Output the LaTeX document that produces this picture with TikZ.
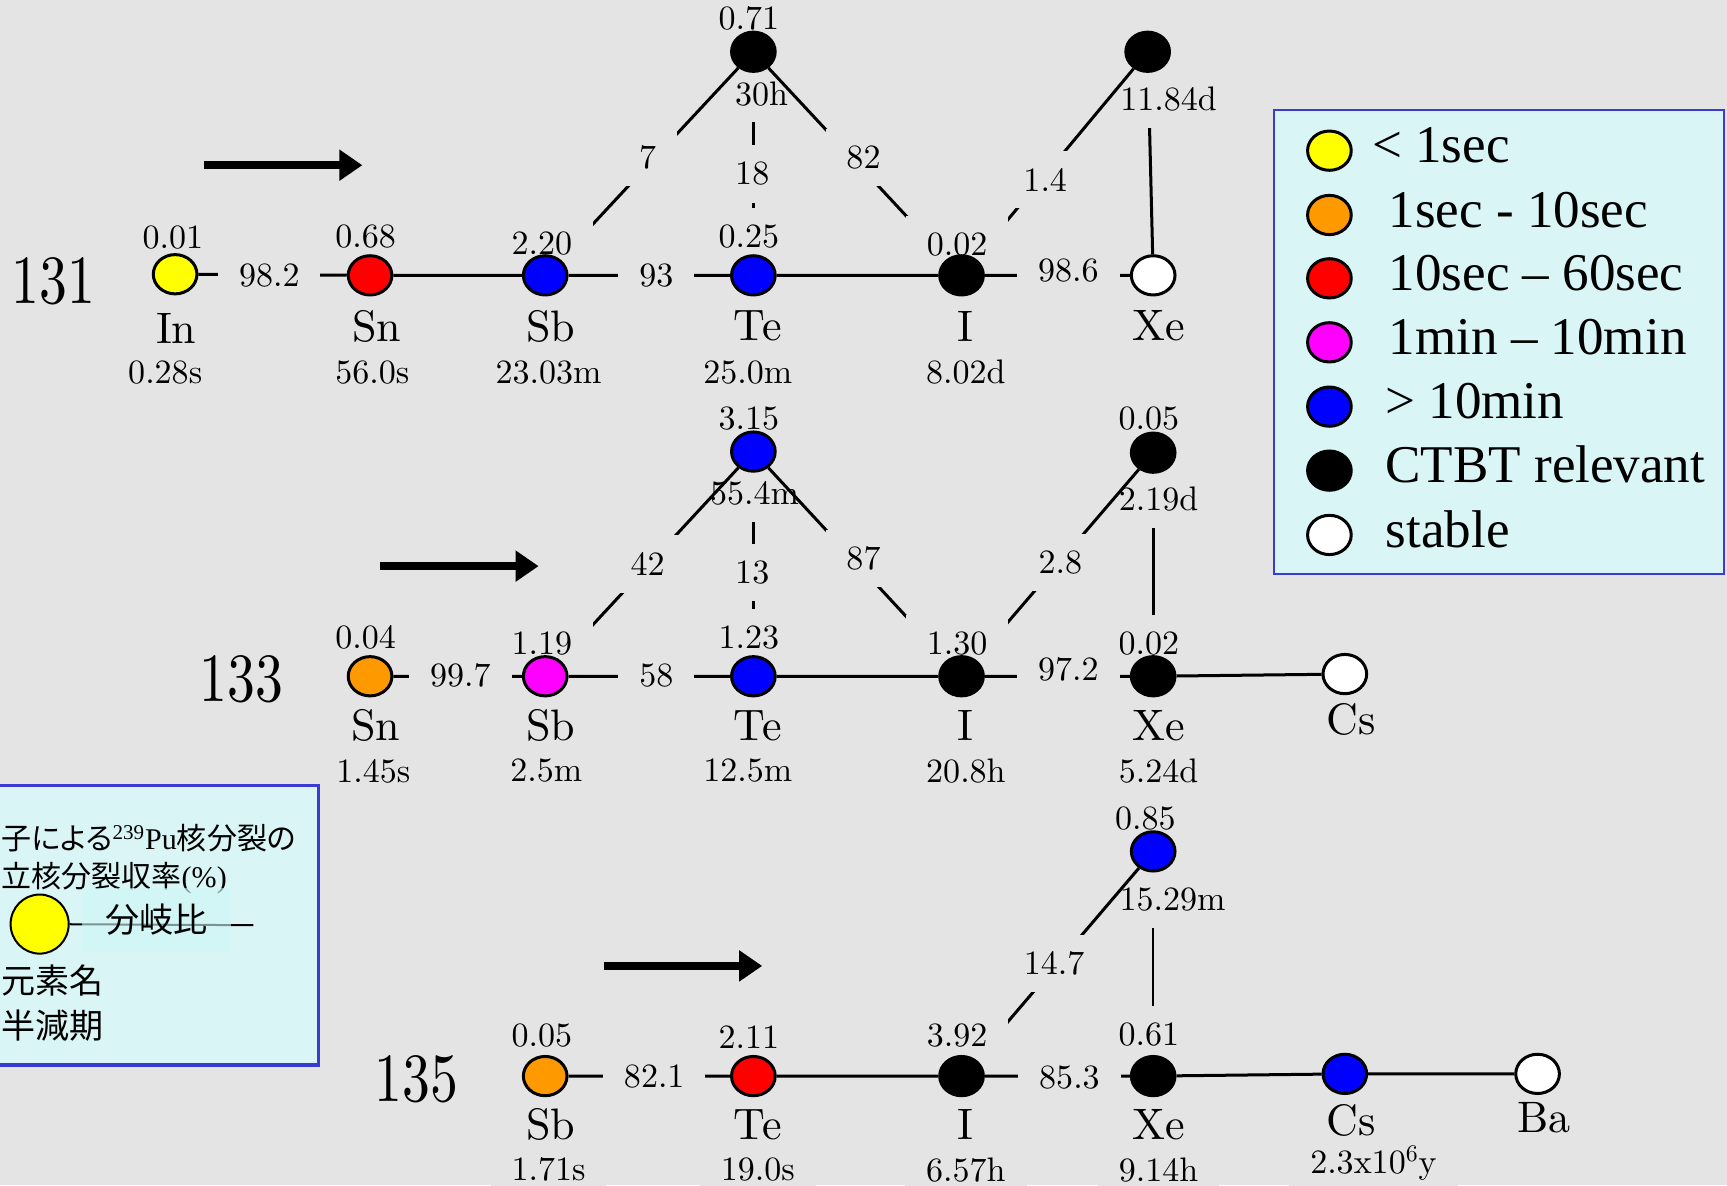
\documentclass[tikz,border=0pt]{standalone}
\usepackage{fontspec}
\usepackage{graphicx}
\newfontfamily\cmfont{lmroman10-regular.otf}
\newfontfamily\legserif{Liberation Serif}
\newfontfamily\jpfont[RawFeature=+palt]{Noto Sans CJK JP}
\usetikzlibrary{arrows.meta,shapes.geometric}

\definecolor{bgc}{RGB}{228,228,228}
\definecolor{nucyellow}{RGB}{255,255,0}
\definecolor{nucorange}{RGB}{255,153,0}
\definecolor{nucred}{RGB}{255,0,0}
\definecolor{nucmagenta}{RGB}{255,0,255}
\definecolor{nucblue}{RGB}{0,0,255}
\definecolor{legfill}{RGB}{218,245,245}
\definecolor{legline}{RGB}{58,58,212}
\definecolor{keyfill}{RGB}{205,246,246}

\pgfdeclarelayer{back}
\pgfdeclarelayer{vlines}
\pgfdeclarelayer{hlabels}
\pgfdeclarelayer{links}
\pgfdeclarelayer{labels}
\pgfsetlayers{back,vlines,hlabels,links,labels,main}

\begin{document}
\begin{tikzpicture}[x=0.55pt,y=-0.55pt,
  nuc/.style={ellipse, draw=black, line width=1.5pt, fill=#1,
    minimum width=21.8pt, minimum height=19.6pt, inner sep=0pt},
  numlbl/.style={font=\cmfont\fontsize{17}{20}\selectfont, fill=bgc,
    inner xsep=10.45pt, inner ysep=0pt, minimum height=28.6pt},
  elemlbl/.style={font=\cmfont\fontsize{22}{26}\selectfont, inner sep=0pt},
  masslbl/.style={font=\cmfont\fontsize{27.8}{32}\selectfont, inner sep=0pt},
  decayline/.style={line width=1.5pt},
  thinline/.style={line width=1.1pt},
  flowarrow/.style={line width=3.9pt, -{Triangle[width=14.9pt,length=11.5pt]}},
  legtxt/.style={font=\legserif\fontsize{26.5}{30}\selectfont, inner sep=0pt, anchor=base west},
  jpsmall/.style={font=\fontsize{15}{18}\selectfont, inner sep=0pt, anchor=base west},
  jplarge/.style={font=\jpfont\fontsize{17}{20}\selectfont, inner sep=0pt, anchor=base west}]

\begin{pgfonlayer}{back}
  \fill[bgc] (0,0) rectangle (1568,1076);
\end{pgfonlayer}
\useasboundingbox (0,0) rectangle (1568,1076);

% ---------------- mass 131 ----------------
\node[masslbl] (m131) at (48.5,255) {\scalebox{1}[1.24]{131}};
\node[nuc=nucyellow] (in131) at (159,249) {};
\node[nuc=nucred] (sn131) at (336,250) {};
\node[nuc=nucblue] (sb131) at (495,250) {};
\node[nuc=nucblue] (te131) at (684,250) {};
\node[nuc=black] (i131) at (873,250) {};
\node[nuc=white] (xe131) at (1047,250) {};
\node[nuc=black] (te131m) at (684,47) {};
\node[nuc=black] (xe131m) at (1042,47) {};

\node[elemlbl] (nin131) at (160,298) {In};
\node[elemlbl] (nsn131) at (342,296) {Sn};
\node[elemlbl] (nsb131) at (500,296) {Sb};
\node[elemlbl] (nte131) at (688,296) {Te};
\node[elemlbl] (ni131) at (877,296) {I};
\node[elemlbl] (nxe131) at (1052,296) {Xe};

% ---------------- mass 133 ----------------
\node[masslbl] (m133) at (219,617) {\scalebox{1}[1.24]{133}};
\node[nuc=nucorange] (sn133) at (336,614) {};
\node[nuc=nucmagenta] (sb133) at (495,614) {};
\node[nuc=nucblue] (te133) at (684,614) {};
\node[nuc=black] (i133) at (873,614) {};
\node[nuc=black] (xe133) at (1047,614) {};
\node[nuc=white] (cs133) at (1221,612) {};
\node[nuc=nucblue] (te133m) at (684,410) {};
\node[nuc=black] (xe133m) at (1047,411) {};

\node[elemlbl] (nsn133) at (341,659) {Sn};
\node[elemlbl] (nsb133) at (500,659) {Sb};
\node[elemlbl] (nte133) at (688,659) {Te};
\node[elemlbl] (ni133) at (877,659) {I};
\node[elemlbl] (nxe133) at (1052,659) {Xe};
\node[elemlbl] (ncs133) at (1227,653) {Cs};

% ---------------- mass 135 ----------------
\node[masslbl] (m135) at (378,980) {\scalebox{1}[1.24]{135}};
\node[nuc=nucorange] (sb135) at (495,977) {};
\node[nuc=nucred] (te135) at (684,977) {};
\node[nuc=black] (i135) at (873,977) {};
\node[nuc=black] (xe135) at (1047,977) {};
\node[nuc=nucblue] (cs135) at (1221,975) {};
\node[nuc=white] (ba135) at (1396,975) {};
\node[nuc=nucblue] (xe135m) at (1047,773) {};

\node[elemlbl] (nsb135) at (500,1021) {Sb};
\node[elemlbl] (nte135) at (688,1021) {Te};
\node[elemlbl] (ni135) at (877,1021) {I};
\node[elemlbl] (nxe135) at (1052,1021) {Xe};
\node[elemlbl] (ncs135) at (1227,1017) {Cs};
\node[elemlbl] (nba135) at (1402,1015) {Ba};

% ---------------- decay links ----------------
\begin{pgfonlayer}{links}
  \draw[decayline] (in131) -- (sn131) -- (sb131) -- (te131) -- (i131) -- (xe131);
  \draw[decayline] (sb131) -- (te131m) -- (i131) -- (xe131m);
  \draw[decayline] (sn133) -- (sb133) -- (te133) -- (i133) -- (xe133) -- (cs133);
  \draw[decayline] (sb133) -- (te133m) -- (i133) -- (xe133m);
  \draw[decayline] (sb135) -- (te135) -- (i135) -- (xe135) -- (cs135) -- (ba135);
  \draw[decayline] (i135) -- (xe135m);
\end{pgfonlayer}
\begin{pgfonlayer}{vlines}
  \draw[decayline] (te131m) -- (te131);
  \draw[decayline] (xe131m) -- (xe131);
  \draw[decayline] (te133m) -- (te133);
  \draw[decayline] (xe133m) -- (xe133);
  \draw[thinline] (xe135m) -- (xe135);
\end{pgfonlayer}

% half-lives of the isomers
\begin{pgfonlayer}{hlabels}
  \node[numlbl] (h131te) at (691.5,85) {30h};
  \node[numlbl] (h131xe) at (1061,90) {11.84d};
  \node[numlbl] (h133te) at (685,448) {55.4m};
  \node[numlbl] (h133xe) at (1052,453) {2.19d};
  \node[numlbl] (h135xe) at (1064.6,817) {15.29m};
\end{pgfonlayer}

\begin{pgfonlayer}{labels}
  % yields
  \node[numlbl] (y131in) at (157,216) {0.01};
  \node[numlbl] (y131sn) at (332,215) {0.68};
  \node[numlbl] (y131sb) at (492,221) {2.20};
  \node[numlbl] (y131te) at (680,215) {0.25};
  \node[numlbl] (y131i) at (869,222) {0.02};
  \node[numlbl] (y131tem) at (680,17) {0.71};
  \node[numlbl] (y133sn) at (332,579) {0.04};
  \node[numlbl] (y133sb) at (492,584) {1.19};
  \node[numlbl] (y133te) at (680,579) {1.23};
  \node[numlbl] (y133i) at (869,584) {1.30};
  \node[numlbl] (y133xe) at (1043,584) {0.02};
  \node[numlbl] (y133tem) at (680,380) {3.15};
  \node[numlbl] (y133xem) at (1043,380) {0.05};
  \node[numlbl] (y135sb) at (492,940) {0.05};
  \node[numlbl] (y135te) at (680,942) {2.11};
  \node[numlbl] (y135i) at (869,940) {3.92};
  \node[numlbl] (y135xe) at (1043,939) {0.61};
  \node[numlbl] (y135xem) at (1040,743) {0.85};
  % branching ratios
  \node[numlbl] (b131a) at (244.5,250) {98.2};
  \node[numlbl] (b131b) at (596,250) {93};
  \node[numlbl] (b131c) at (970,246) {98.6};
  \node[numlbl] (b131d) at (588,143) {7};
  \node[numlbl] (b131e) at (683,158) {18};
  \node[numlbl] (b131f) at (784,143) {82};
  \node[numlbl] (b131g) at (949,163) {1.4};
  \node[numlbl] (b133a) at (418,613) {99.7};
  \node[numlbl] (b133b) at (596,613) {58};
  \node[numlbl] (b133c) at (970,608) {97.2};
  \node[numlbl] (b133d) at (588,512) {42};
  \node[numlbl] (b133e) at (683,520) {13};
  \node[numlbl] (b133f) at (784,507) {87};
  \node[numlbl] (b133g) at (962.7,511) {2.8};
  \node[numlbl] (b135a) at (594,977) {82.1};
  \node[numlbl] (b135b) at (971,978) {85.3};
  \node[numlbl] (b135c) at (957,875) {14.7};
  % half-lives
  \node[numlbl] (t131in) at (150,338) {0.28s};
  \node[numlbl] (t131sn) at (338,338) {56.0s};
  \node[numlbl] (t131sb) at (498,338) {23.03m};
  \node[numlbl] (t131te) at (679,338) {25.0m};
  \node[numlbl] (t131i) at (877,338) {8.02d};
  \node[numlbl] (t133sn) at (339,700) {1.45s};
  \node[numlbl] (t133sb) at (496,700) {2.5m};
  \node[numlbl] (t133te) at (679,700) {12.5m};
  \node[numlbl] (t133i) at (877,700) {20.8h};
  \node[numlbl] (t133xe) at (1052,700) {5.24d};
  \node[numlbl] (t135sb) at (498,1062) {1.71s};
  \node[numlbl] (t135te) at (688,1062) {19.0s};
  \node[numlbl] (t135i) at (877,1062) {6.57h};
  \node[numlbl] (t135xe) at (1052,1062) {9.14h};
  \node[numlbl] (t135cs) at (1247,1056) {2.3x10\textsuperscript{6}y};
\end{pgfonlayer}

% ---------------- arrows ----------------
\coordinate (a131s) at (185,150);
\coordinate (a131e) at (329,150);
\coordinate (a133s) at (345,514);
\coordinate (a133e) at (489,514);
\coordinate (a135s) at (548,877);
\coordinate (a135e) at (692,877);
\draw[flowarrow] (a131s) -- (a131e);
\draw[flowarrow] (a133s) -- (a133e);
\draw[flowarrow] (a135s) -- (a135e);

% ---------------- colour key ----------------
\draw[fill=legfill, draw=legline, line width=1pt] (1157,100) rectangle (1565,521);
\node[nuc=nucyellow] (k1) at (1207,136.8) {};
\node[nuc=nucorange] (k2) at (1207,195.2) {};
\node[nuc=nucred] (k3) at (1207,252.7) {};
\node[nuc=nucmagenta] (k4) at (1207,310.8) {};
\node[nuc=nucblue] (k5) at (1207,369.2) {};
\node[nuc=black] (k6) at (1207,427.3) {};
\node[nuc=white] (k7) at (1207,485.7) {};
\node[legtxt] (kt1) at (1245.4,147.7) {< 1sec};
\node[legtxt] (kt2) at (1260.5,206.2) {1sec - 10sec};
\node[legtxt] (kt3) at (1260.5,263.7) {10sec – 60sec};
\node[legtxt] (kt4) at (1260.5,321.8) {1min – 10min};
\node[legtxt] (kt5) at (1257.5,380.2) {> 10min};
\node[legtxt] (kt6) at (1257.5,438.3) {CTBT relevant};
\node[legtxt] (kt7) at (1258,496.7) {stable};

% ---------------- reading key ----------------
\begin{scope}
  \clip (0,0) rectangle (1568,1076);
  \draw[fill=legfill, draw=legline, line width=1.6pt] (-20,713) rectangle (289,967);
  \node[jpsmall] (r1) at (1,771.7)
    {{\jpfont 子による}{\legserif\textsuperscript{239}Pu}{\jpfont 核分裂の}};
  \node[jpsmall] (r2) at (1,806) {{\jpfont 立核分裂収率}{\legserif (\%)}};
  \node[ellipse, draw=black, line width=1pt, fill=nucyellow, minimum width=29pt,
        minimum height=29.5pt, inner sep=0pt] (rkey) at (36,839) {};
  \coordinate (rend) at (230,840);
  \draw[line width=1pt] (rkey) -- (rend);
  \node[fill=keyfill, fill opacity=0.6, text opacity=1, inner sep=0pt,
        minimum width=74.8pt, minimum height=31.9pt,
        font=\jpfont\fontsize{17}{20}\selectfont] (rbr) at (142,835) {分岐比};
  \node[jplarge] (r3) at (1,901.6) {元素名};
  \node[jplarge] (r4) at (1,942.5) {半減期};
\end{scope}

\end{tikzpicture}
\end{document}
